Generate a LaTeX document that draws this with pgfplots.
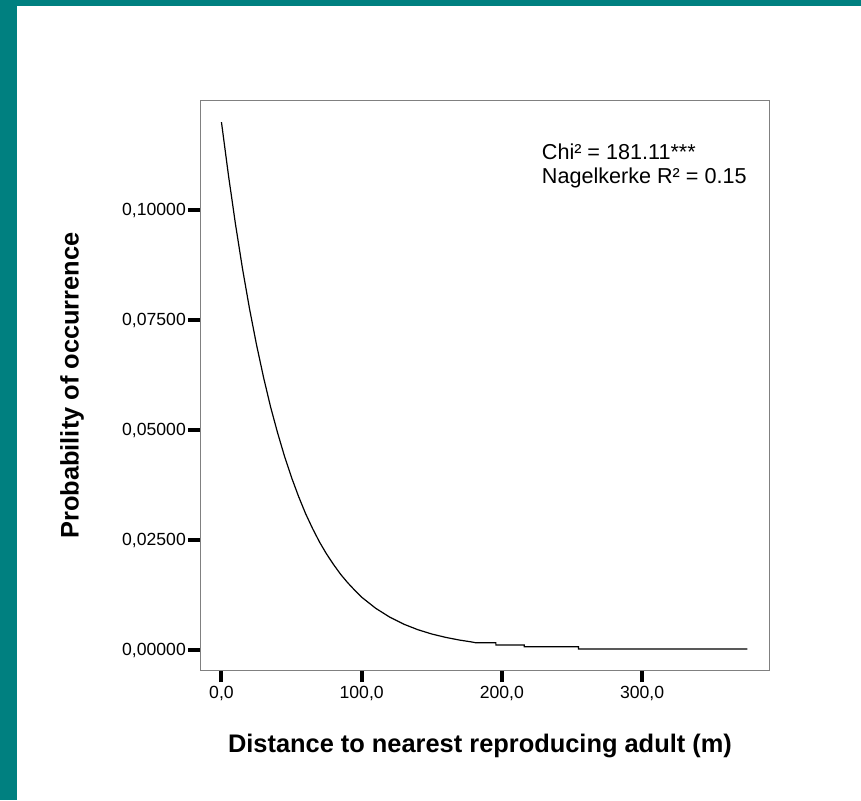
\documentclass[border=0pt]{standalone}
\usepackage{fontspec}
\setmainfont{Liberation Sans}
\usepackage{pgfplots}
\pgfplotsset{compat=1.18}
\definecolor{tealbg}{RGB}{0,128,128}
\begin{document}
\begin{tikzpicture}[x=1pt,y=1pt]
\fill[tealbg] (0,0) rectangle (861,800);
\fill[white] (16.5,0) rectangle (861,794);
\begin{axis}[
  at={(200pt,130pt)}, anchor=south west,
  scale only axis, width=569pt, height=569pt,
  xmin=-15.3, xmax=390.5, ymin=-0.00455, ymax=0.1248,
  axis line style={draw=gray, line width=1pt},
  tick align=outside, major tick length=12pt,
  tick style={black, line width=4pt},
  xtick pos=bottom, ytick pos=left,
  xtick={0,100,200,300}, xticklabels={{0,0},{100,0},{200,0},{300,0}},
  ytick={0,0.025,0.05,0.075,0.1},
  yticklabels={{0,00000},{0,02500},{0,05000},{0,07500},{0,10000}},
  ticklabel style={font=\fontsize{17.6}{20}\selectfont},
  yticklabel style={inner sep=2pt},
  xticklabel style={inner sep=4pt},
  xlabel={Distance to nearest reproducing adult (m)},
  ylabel={Probability of occurrence},
  label style={font=\bfseries\fontsize{25.4}{28}\selectfont},
  xlabel style={at={(axis description cs:0.492,-0.1336)}, anchor=center},
  ylabel style={at={(axis description cs:-0.225,0.5)}, anchor=center},
  clip=false,
]
\addplot[black, line width=1.2pt] coordinates {
(0,0.1200) (5,0.1079) (10,0.0968) (15,0.0867) (20,0.0776) (25,0.0694)
(30,0.0620) (35,0.0553) (40,0.0494) (45,0.0440) (50,0.0392) (55,0.0349)
(60,0.0310) (65,0.0276) (70,0.0245) (75,0.0218) (80,0.0194) (85,0.0172)
(90,0.0153) (95,0.0136) (100,0.0120) (110,0.00948) (120,0.00747)
(130,0.00587) (140,0.00462) (150,0.00363) (160,0.00286) (170,0.00224)
(178,0.00185) (181,0.00166) (195.7,0.00166) (195.7,0.00114) (216,0.00114)
(216,0.00075) (254.6,0.00075) (254.6,0.00023) (375,0.00023)
};
\node[anchor=base west, inner sep=0pt, font=\fontsize{21.6}{24}\selectfont] at (axis cs:228.4,0.1116) {Chi² = 181.11***};
\node[anchor=base west, inner sep=0pt, font=\fontsize{21.6}{24}\selectfont] at (axis cs:228.4,0.1061) {Nagelkerke R² = 0.15};
\end{axis}
\end{tikzpicture}
\end{document}
